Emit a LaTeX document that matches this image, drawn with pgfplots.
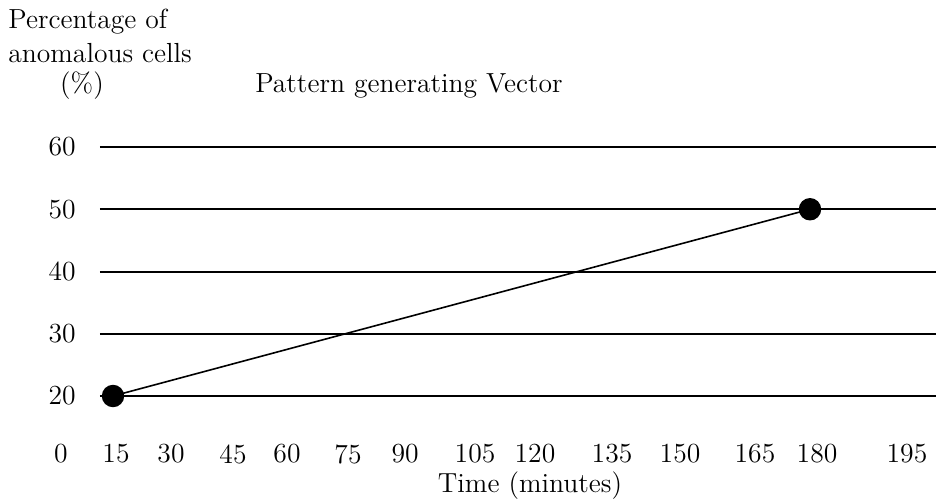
\documentclass[border=0pt]{standalone}
\usepackage{fontspec}
\usepackage{pgfplots}
\pgfplotsset{compat=1.18}
\usetikzlibrary{calc}
\begin{document}
\begin{tikzpicture}[font=\fontsize{13.8}{16.5}\selectfont]
\begin{axis}[
 name=ax,
 scale only axis,
 width=418pt, height=124.5pt,
 xmin=11.92, xmax=209.83,
 ymin=20, ymax=60,
 axis line style={draw=none},
 ytick={20,30,40,50,60},
 xtick={15.71,28.73,43.41,56.19,70.63,84.13,100.70,114.90,133.13,149.23,166.98,181.66,202.96},
 xticklabels={15,30,45,60,75,90,105,120,135,150,165,180,195},
 major tick length=0pt,
 ymajorgrids,
 grid style={black, line width=1pt},
 /pgf/number format/assume math mode=true,
 every tick label/.append style={font=\fontsize{13.8}{16.5}\selectfont},
 xticklabel style={anchor=center, yshift=-29pt, inner sep=0pt},
 yticklabel style={anchor=east, xshift=-12pt, inner sep=0pt},
 clip=false,
]
\addplot[black, line width=0.8pt, mark=*, mark size=5.2pt, mark options={fill=black}] coordinates {(15,20) (180,50)};
\end{axis}
\pgfresetboundingbox
\begin{scope}[shift={($(ax.south west)+(-50pt,198pt)$)}, x=0.5pt, y=-0.5pt]
\path[use as bounding box] (0,0) rectangle (936,500);
\node[anchor=center, inner sep=0pt] at (61,454) {0};
\node[anchor=base west, inner sep=0pt] at (8,28) {Percentage of};
\node[anchor=base west, inner sep=0pt] at (8,62) {anomalous cells};
\node[anchor=base, inner sep=0pt] at (82,92) {(\%)};
\node[anchor=base, inner sep=0pt] at (409,92) {Pattern generating Vector};
\node[anchor=base, inner sep=0pt] at (530,492) {Time (minutes)};
\end{scope}
\end{tikzpicture}
\end{document}
